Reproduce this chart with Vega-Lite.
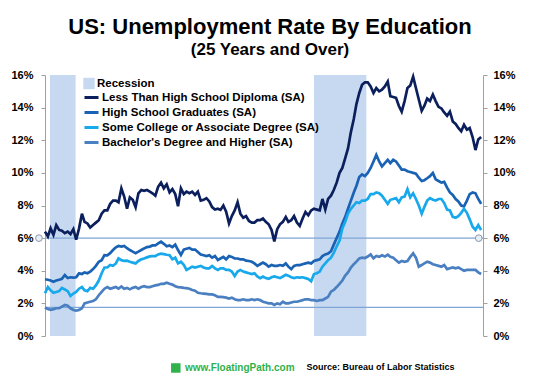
{
  "$schema": "https://vega.github.io/schema/vega-lite/v6.json",
  "width": 438,
  "height": 261,
  "autosize": "none",
  "padding": {"left": 45, "top": 75, "right": 53, "bottom": 54},
  "background": "white",
  "title": {
    "text": "US: Unemployment Rate By Education",
    "subtitle": "(25 Years and Over)",
    "font": "Liberation Sans",
    "fontSize": 22,
    "fontWeight": "bold",
    "color": "#000000",
    "subtitleFont": "Liberation Sans",
    "subtitleFontSize": 17,
    "subtitleFontWeight": "bold",
    "subtitleColor": "#000000",
    "subtitlePadding": 3,
    "anchor": "middle",
    "frame": "group",
    "dx": 6,
    "offset": 10
  },
  "config": {
    "view": {"stroke": null},
    "font": "Liberation Sans",
    "axis": {"labelFont": "Liberation Sans"},
    "legend": {
      "labelFont": "Liberation Sans",
      "labelFontSize": 11.5,
      "labelFontWeight": "bold",
      "labelColor": "#000000",
      "labelLimit": 0,
      "padding": 0,
      "rowPadding": -4.5,
      "labelOffset": 2,
      "titlePadding": 0
    }
  },
  "datasets": {
    "rates": [
      {"d":"2000-01","a":6.4,"b":3.48,"c":2.62,"e":1.75},
      {"d":"2000-02","a":6.1,"b":3.45,"c":3.0,"e":1.65},
      {"d":"2000-03","a":6.6,"b":3.4,"c":2.8,"e":1.6},
      {"d":"2000-04","a":6.2,"b":3.33,"c":2.65,"e":1.65},
      {"d":"2000-05","a":6.8,"b":3.4,"c":2.7,"e":1.7},
      {"d":"2000-06","a":6.5,"b":3.45,"c":2.75,"e":1.7},
      {"d":"2000-07","a":6.45,"b":3.5,"c":2.95,"e":1.8},
      {"d":"2000-08","a":6.3,"b":3.74,"c":2.85,"e":1.9},
      {"d":"2000-09","a":6.4,"b":3.55,"c":2.75,"e":1.85},
      {"d":"2000-10","a":6.25,"b":3.6,"c":2.45,"e":1.7},
      {"d":"2000-11","a":6.55,"b":3.58,"c":2.6,"e":1.6},
      {"d":"2000-12","a":5.9,"b":3.6,"c":2.7,"e":1.55},
      {"d":"2001-01","a":6.6,"b":3.84,"c":2.9,"e":1.6},
      {"d":"2001-02","a":7.5,"b":3.8,"c":3.0,"e":1.7},
      {"d":"2001-03","a":7.0,"b":3.9,"c":2.8,"e":2.0},
      {"d":"2001-04","a":6.9,"b":3.85,"c":2.75,"e":2.05},
      {"d":"2001-05","a":6.65,"b":3.95,"c":2.95,"e":2.1},
      {"d":"2001-06","a":6.8,"b":4.1,"c":2.9,"e":2.15},
      {"d":"2001-07","a":6.95,"b":4.3,"c":3.1,"e":2.25},
      {"d":"2001-08","a":7.1,"b":4.55,"c":3.4,"e":2.5},
      {"d":"2001-09","a":7.5,"b":4.65,"c":3.85,"e":2.7},
      {"d":"2001-10","a":7.7,"b":4.96,"c":4.2,"e":2.9},
      {"d":"2001-11","a":7.7,"b":4.95,"c":4.2,"e":3.0},
      {"d":"2001-12","a":8.1,"b":5.08,"c":4.35,"e":2.9},
      {"d":"2002-01","a":8.3,"b":5.27,"c":4.3,"e":2.95},
      {"d":"2002-02","a":8.3,"b":5.44,"c":4.45,"e":3.0},
      {"d":"2002-03","a":8.2,"b":5.52,"c":4.76,"e":2.9},
      {"d":"2002-04","a":9.05,"b":5.48,"c":4.65,"e":3.04},
      {"d":"2002-05","a":8.55,"b":5.52,"c":4.6,"e":2.9},
      {"d":"2002-06","a":7.8,"b":5.38,"c":4.62,"e":2.95},
      {"d":"2002-07","a":8.5,"b":5.27,"c":4.55,"e":2.86},
      {"d":"2002-08","a":8.35,"b":5.17,"c":4.5,"e":2.95},
      {"d":"2002-09","a":7.9,"b":5.08,"c":4.45,"e":3.0},
      {"d":"2002-10","a":8.75,"b":5.17,"c":4.6,"e":2.9},
      {"d":"2002-11","a":8.95,"b":5.27,"c":4.7,"e":3.0},
      {"d":"2002-12","a":8.9,"b":5.37,"c":4.75,"e":3.05},
      {"d":"2003-01","a":8.95,"b":5.45,"c":4.82,"e":3.0},
      {"d":"2003-02","a":8.85,"b":5.48,"c":4.88,"e":3.0},
      {"d":"2003-03","a":8.75,"b":5.55,"c":4.9,"e":3.05},
      {"d":"2003-04","a":8.6,"b":5.55,"c":4.9,"e":3.1},
      {"d":"2003-05","a":9.15,"b":5.68,"c":5.0,"e":3.13},
      {"d":"2003-06","a":9.4,"b":5.78,"c":5.05,"e":3.2},
      {"d":"2003-07","a":9.05,"b":5.65,"c":5.02,"e":3.2},
      {"d":"2003-08","a":9.3,"b":5.5,"c":4.98,"e":3.27},
      {"d":"2003-09","a":8.8,"b":5.55,"c":4.95,"e":3.2},
      {"d":"2003-10","a":9.0,"b":5.45,"c":4.7,"e":3.15},
      {"d":"2003-11","a":8.7,"b":5.6,"c":4.8,"e":3.05},
      {"d":"2003-12","a":7.95,"b":5.27,"c":4.45,"e":3.0},
      {"d":"2004-01","a":9.05,"b":4.97,"c":4.55,"e":2.98},
      {"d":"2004-02","a":8.7,"b":5.3,"c":4.36,"e":2.95},
      {"d":"2004-03","a":8.85,"b":5.35,"c":4.05,"e":2.93},
      {"d":"2004-04","a":8.75,"b":5.4,"c":4.15,"e":2.9},
      {"d":"2004-05","a":8.85,"b":5.3,"c":4.25,"e":2.82},
      {"d":"2004-06","a":8.65,"b":5.3,"c":4.2,"e":2.78},
      {"d":"2004-07","a":8.85,"b":5.15,"c":4.25,"e":2.65},
      {"d":"2004-08","a":8.3,"b":5.0,"c":4.3,"e":2.62},
      {"d":"2004-09","a":8.35,"b":4.95,"c":4.2,"e":2.6},
      {"d":"2004-10","a":8.45,"b":4.9,"c":4.15,"e":2.58},
      {"d":"2004-11","a":8.25,"b":4.95,"c":4.15,"e":2.55},
      {"d":"2004-12","a":7.9,"b":4.8,"c":4.29,"e":2.55},
      {"d":"2005-01","a":7.75,"b":4.9,"c":4.15,"e":2.5},
      {"d":"2005-02","a":7.8,"b":4.66,"c":4.05,"e":2.4},
      {"d":"2005-03","a":7.73,"b":4.75,"c":4.15,"e":2.4},
      {"d":"2005-04","a":8.0,"b":4.85,"c":4.15,"e":2.38},
      {"d":"2005-05","a":7.62,"b":4.7,"c":4.05,"e":2.35},
      {"d":"2005-06","a":6.9,"b":4.9,"c":4.05,"e":2.3},
      {"d":"2005-07","a":7.35,"b":4.85,"c":3.95,"e":2.35},
      {"d":"2005-08","a":7.7,"b":4.75,"c":3.68,"e":2.25},
      {"d":"2005-09","a":8.2,"b":4.75,"c":3.95,"e":2.2},
      {"d":"2005-10","a":7.5,"b":4.7,"c":4.05,"e":2.2},
      {"d":"2005-11","a":7.25,"b":4.7,"c":3.95,"e":2.25},
      {"d":"2005-12","a":7.35,"b":4.62,"c":3.9,"e":2.2},
      {"d":"2006-01","a":7.05,"b":4.6,"c":3.85,"e":2.2},
      {"d":"2006-02","a":6.95,"b":4.55,"c":3.8,"e":2.25},
      {"d":"2006-03","a":6.95,"b":4.45,"c":3.85,"e":2.2},
      {"d":"2006-04","a":7.1,"b":4.3,"c":3.65,"e":2.25},
      {"d":"2006-05","a":7.1,"b":4.4,"c":3.55,"e":2.2},
      {"d":"2006-06","a":7.2,"b":4.5,"c":3.65,"e":2.1},
      {"d":"2006-07","a":7.0,"b":4.4,"c":3.55,"e":2.05},
      {"d":"2006-08","a":6.85,"b":4.25,"c":3.5,"e":2.0},
      {"d":"2006-09","a":6.5,"b":4.35,"c":3.6,"e":2.0},
      {"d":"2006-10","a":5.8,"b":4.3,"c":3.65,"e":1.9},
      {"d":"2006-11","a":6.55,"b":4.3,"c":3.6,"e":2.0},
      {"d":"2006-12","a":6.85,"b":4.35,"c":3.55,"e":1.95},
      {"d":"2007-01","a":7.0,"b":4.3,"c":3.65,"e":2.1},
      {"d":"2007-02","a":7.3,"b":4.45,"c":3.75,"e":2.0},
      {"d":"2007-03","a":7.0,"b":4.25,"c":3.7,"e":2.0},
      {"d":"2007-04","a":7.1,"b":4.1,"c":3.6,"e":2.05},
      {"d":"2007-05","a":7.35,"b":4.3,"c":3.55,"e":2.1},
      {"d":"2007-06","a":6.95,"b":4.35,"c":3.6,"e":2.1},
      {"d":"2007-07","a":6.75,"b":4.35,"c":3.58,"e":2.15},
      {"d":"2007-08","a":7.2,"b":4.4,"c":3.6,"e":2.2},
      {"d":"2007-09","a":7.6,"b":4.45,"c":3.55,"e":2.25},
      {"d":"2007-10","a":7.4,"b":4.5,"c":3.5,"e":2.25},
      {"d":"2007-11","a":7.7,"b":4.45,"c":3.35,"e":2.2},
      {"d":"2007-12","a":7.8,"b":4.6,"c":3.8,"e":2.2},
      {"d":"2008-01","a":7.75,"b":4.65,"c":3.85,"e":2.15},
      {"d":"2008-02","a":7.7,"b":4.7,"c":3.95,"e":2.2},
      {"d":"2008-03","a":8.4,"b":4.9,"c":4.25,"e":2.2},
      {"d":"2008-04","a":7.75,"b":5.0,"c":4.45,"e":2.3},
      {"d":"2008-05","a":8.4,"b":5.05,"c":4.65,"e":2.4},
      {"d":"2008-06","a":8.6,"b":5.2,"c":4.8,"e":2.72},
      {"d":"2008-07","a":8.95,"b":5.6,"c":5.1,"e":2.82},
      {"d":"2008-08","a":9.4,"b":6.0,"c":5.5,"e":3.0},
      {"d":"2008-09","a":10.0,"b":6.4,"c":5.85,"e":3.2},
      {"d":"2008-10","a":10.3,"b":6.9,"c":6.6,"e":3.4},
      {"d":"2008-11","a":10.9,"b":7.3,"c":7.0,"e":3.7},
      {"d":"2008-12","a":11.5,"b":7.8,"c":7.5,"e":3.9},
      {"d":"2009-01","a":12.5,"b":8.3,"c":7.8,"e":4.2},
      {"d":"2009-02","a":13.3,"b":8.8,"c":8.0,"e":4.4},
      {"d":"2009-03","a":14.2,"b":9.2,"c":8.2,"e":4.56},
      {"d":"2009-04","a":14.9,"b":9.75,"c":8.15,"e":4.76},
      {"d":"2009-05","a":15.4,"b":9.9,"c":8.3,"e":4.8},
      {"d":"2009-06","a":15.55,"b":9.8,"c":8.3,"e":4.78},
      {"d":"2009-07","a":15.55,"b":10.0,"c":8.4,"e":4.87},
      {"d":"2009-08","a":15.3,"b":10.3,"c":8.7,"e":5.0},
      {"d":"2009-09","a":14.9,"b":10.7,"c":8.7,"e":4.76},
      {"d":"2009-10","a":15.2,"b":11.1,"c":8.8,"e":4.9},
      {"d":"2009-11","a":15.0,"b":10.7,"c":8.75,"e":4.85},
      {"d":"2009-12","a":15.1,"b":10.4,"c":8.6,"e":4.95},
      {"d":"2010-01","a":15.3,"b":10.6,"c":8.35,"e":4.87},
      {"d":"2010-02","a":15.6,"b":10.8,"c":8.1,"e":4.98},
      {"d":"2010-03","a":14.7,"b":10.6,"c":8.35,"e":4.85},
      {"d":"2010-04","a":14.65,"b":10.8,"c":8.4,"e":4.8},
      {"d":"2010-05","a":14.6,"b":10.7,"c":8.45,"e":4.65},
      {"d":"2010-06","a":14.1,"b":10.45,"c":8.2,"e":4.5},
      {"d":"2010-07","a":13.75,"b":10.2,"c":8.5,"e":4.6},
      {"d":"2010-08","a":14.4,"b":10.2,"c":8.55,"e":4.55},
      {"d":"2010-09","a":15.2,"b":10.1,"c":9.0,"e":4.6},
      {"d":"2010-10","a":15.35,"b":10.05,"c":8.5,"e":4.85},
      {"d":"2010-11","a":15.9,"b":10.0,"c":8.75,"e":5.07},
      {"d":"2010-12","a":15.2,"b":9.95,"c":8.4,"e":4.8},
      {"d":"2011-01","a":14.5,"b":9.7,"c":8.0,"e":4.25},
      {"d":"2011-02","a":13.8,"b":9.5,"c":7.5,"e":4.35},
      {"d":"2011-03","a":14.1,"b":9.55,"c":7.9,"e":4.45},
      {"d":"2011-04","a":14.55,"b":9.67,"c":8.3,"e":4.55},
      {"d":"2011-05","a":14.4,"b":9.8,"c":8.45,"e":4.5},
      {"d":"2011-06","a":14.8,"b":10.0,"c":8.35,"e":4.4},
      {"d":"2011-07","a":14.4,"b":9.6,"c":8.3,"e":4.35},
      {"d":"2011-08","a":14.05,"b":9.5,"c":8.4,"e":4.3},
      {"d":"2011-09","a":13.95,"b":9.4,"c":8.4,"e":4.25},
      {"d":"2011-10","a":13.7,"b":9.45,"c":8.15,"e":4.35},
      {"d":"2011-11","a":13.5,"b":9.1,"c":7.75,"e":4.1},
      {"d":"2011-12","a":13.75,"b":8.8,"c":7.7,"e":4.15},
      {"d":"2012-01","a":13.15,"b":8.65,"c":7.3,"e":4.2},
      {"d":"2012-02","a":13.0,"b":8.4,"c":7.25,"e":4.15},
      {"d":"2012-03","a":12.75,"b":8.25,"c":7.35,"e":4.2},
      {"d":"2012-04","a":12.55,"b":8.0,"c":7.55,"e":4.1},
      {"d":"2012-05","a":12.95,"b":7.95,"c":7.8,"e":4.0},
      {"d":"2012-06","a":12.65,"b":8.3,"c":7.55,"e":4.05},
      {"d":"2012-07","a":12.75,"b":8.7,"c":7.15,"e":4.05},
      {"d":"2012-08","a":12.2,"b":8.8,"c":6.7,"e":4.05},
      {"d":"2012-09","a":11.4,"b":8.75,"c":6.5,"e":4.05},
      {"d":"2012-10","a":12.05,"b":8.4,"c":6.8,"e":3.9},
      {"d":"2012-11","a":12.2,"b":8.1,"c":6.5,"e":3.8}
    ]
  },
  "resolve": {"axis": {"y": "independent"}},
  "layer": [
    {
      "data": {"values": [
        {"start": "2000-02-23", "end": "2000-11-25", "k": "Recession"},
        {"start": "2007-12-01", "end": "2009-06-16", "k": "Recession"}
      ]},
      "mark": {"type": "rect"},
      "encoding": {
        "x": {"field": "start", "type": "temporal", "scale": {"type": "utc", "domain": [{"year": 2000, "month": 1, "date": 1, "utc": true}, {"year": 2012, "month": 11, "date": 21, "utc": true}]}, "axis": null},
        "x2": {"field": "end"},
        "fill": {
          "field": "k", "type": "nominal",
          "scale": {"range": ["#c6d9f0"]},
          "legend": {"orient": "none", "legendX": 38, "legendY": 2.5, "title": null, "symbolType": "square", "symbolSize": 130, "symbolStrokeWidth": 0}
        }
      }
    },
    {
      "data": {"values": [{"lv": 6}, {"lv": 1.75}]},
      "mark": {"type": "rule", "color": "#7fa6d6", "strokeWidth": 1.3},
      "encoding": {
        "y": {
          "field": "lv", "type": "quantitative",
          "scale": {"domain": [0, 16], "nice": false},
          "axis": {"orient": "right", "title": null, "values": [0, 2, 4, 6, 8, 10, 12, 14, 16], "labelExpr": "datum.value + '%'", "labelFontSize": 11, "labelFontWeight": "bold", "labelColor": "#000000", "domainColor": "#a0a0a0", "tickColor": "#a0a0a0", "tickSize": 4, "labelPadding": 6, "grid": false}
        }
      }
    },
    {
      "data": {"name": "rates"},
      "transform": [{"fold": ["a", "b", "c", "e"], "as": ["s", "v"]}],
      "mark": {"type": "line", "strokeWidth": 2.7},
      "encoding": {
        "x": {
          "field": "d", "type": "temporal",
          "scale": {"type": "utc", "domain": [{"year": 2000, "month": 1, "date": 1, "utc": true}, {"year": 2012, "month": 11, "date": 21, "utc": true}]},
          "axis": {"title": null, "format": "%Y", "tickCount": "year", "labelFontSize": 11, "labelFontWeight": "bold", "labelColor": "#000000", "domainColor": "#a0a0a0", "tickColor": "#a0a0a0", "tickSize": 4, "labelPadding": 3, "grid": false, "labelFlush": false, "labelOverlap": false}
        },
        "y": {
          "field": "v", "type": "quantitative",
          "scale": {"domain": [0, 16], "nice": false},
          "axis": {"orient": "left", "title": null, "values": [0, 2, 4, 6, 8, 10, 12, 14, 16], "labelExpr": "datum.value + '%'", "labelFontSize": 11, "labelFontWeight": "bold", "labelColor": "#000000", "domainColor": "#a0a0a0", "tickColor": "#a0a0a0", "tickSize": 4, "labelPadding": 8, "grid": false}
        },
        "stroke": {
          "field": "s", "type": "nominal",
          "scale": {"domain": ["a", "b", "c", "e"], "range": ["#0b1f5c", "#1a62b4", "#17a9ec", "#4a7fc1"]},
          "legend": {
            "orient": "none", "legendX": 38, "legendY": 14, "title": null,
            "symbolType": "stroke", "symbolSize": 196, "symbolStrokeWidth": 3,
            "labelExpr": "datum.label == 'a' ? 'Less Than High School Diploma (SA)' : datum.label == 'b' ? 'High School Graduates (SA)' : datum.label == 'c' ? 'Some College or Associate Degree (SA)' : \"Bachelor's Degree and Higher (SA)\""
          }
        }
      }
    },
    {
      "data": {"values": [{"d": "1999-10-28", "v": 6}, {"d": "2012-10-06", "v": 6}]},
      "mark": {"type": "point", "shape": "circle", "filled": true, "color": "#e6eef8", "stroke": "#8d99a8", "strokeWidth": 1, "size": 45, "opacity": 1},
      "encoding": {
        "x": {"field": "d", "type": "temporal", "scale": {"type": "utc", "domain": [{"year": 2000, "month": 1, "date": 1, "utc": true}, {"year": 2012, "month": 11, "date": 21, "utc": true}]}, "axis": null},
        "y": {"field": "v", "type": "quantitative", "scale": {"domain": [0, 16], "nice": false}, "axis": null}
      }
    },
    {
      "data": {"values": [{"t": "www.FloatingPath.com"}]},
      "mark": {"type": "text", "align": "left", "baseline": "middle", "font": "Liberation Sans", "fontSize": 10, "fontWeight": "bold", "color": "#2fb14b"},
      "encoding": {
        "text": {"field": "t"},
        "x": {"datum": {"year": 2004, "month": 2, "date": 13, "utc": true}, "type": "temporal", "scale": {"type": "utc", "domain": [{"year": 2000, "month": 1, "date": 1, "utc": true}, {"year": 2012, "month": 11, "date": 21, "utc": true}]}, "axis": null},
        "y": {"datum": -1.96, "type": "quantitative", "scale": {"domain": [0, 16], "nice": false}, "axis": null}
      }
    },
    {
      "data": {"values": [{"t": "Source: Bureau of Labor Statistics"}]},
      "mark": {"type": "text", "align": "left", "baseline": "middle", "font": "Liberation Sans", "fontSize": 9, "fontWeight": "bold", "color": "#000000"},
      "encoding": {
        "text": {"field": "t"},
        "x": {"datum": {"year": 2007, "month": 9, "date": 12, "utc": true}, "type": "temporal", "scale": {"type": "utc", "domain": [{"year": 2000, "month": 1, "date": 1, "utc": true}, {"year": 2012, "month": 11, "date": 21, "utc": true}]}, "axis": null},
        "y": {"datum": -1.93, "type": "quantitative", "scale": {"domain": [0, 16], "nice": false}, "axis": null}
      }
    },
    {
      "data": {"values": [{"t": "logo"}]},
      "mark": {"type": "point", "shape": "square", "filled": true, "color": "#2fb14b", "size": 90, "opacity": 1},
      "encoding": {
        "x": {"datum": {"year": 2003, "month": 11, "date": 7, "utc": true}, "type": "temporal", "scale": {"type": "utc", "domain": [{"year": 2000, "month": 1, "date": 1, "utc": true}, {"year": 2012, "month": 11, "date": 21, "utc": true}]}, "axis": null},
        "y": {"datum": -1.96, "type": "quantitative", "scale": {"domain": [0, 16], "nice": false}, "axis": null}
      }
    }
  ]
}
